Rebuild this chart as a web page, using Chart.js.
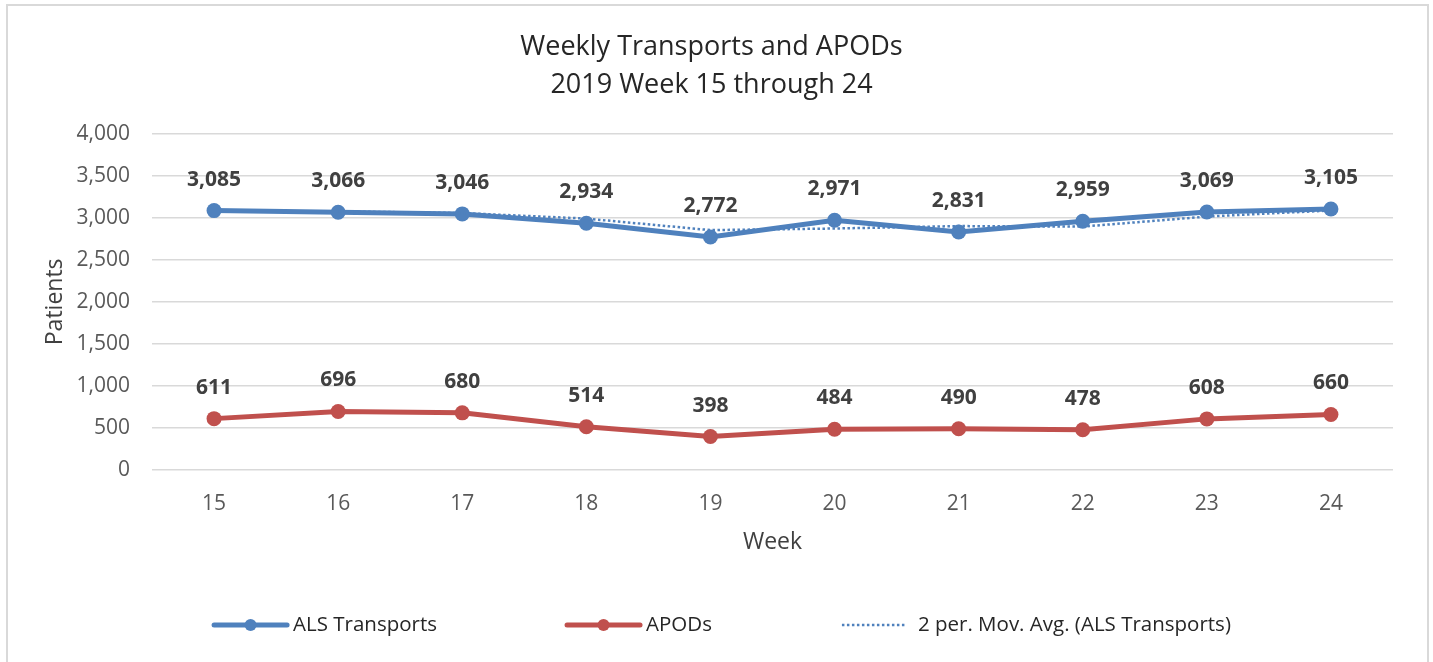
<!DOCTYPE html>
<html>
<head>
<meta charset="utf-8">
<title>Weekly Transports and APODs</title>
<script src="https://cdn.jsdelivr.net/npm/chart.js@4.4.1/dist/chart.umd.min.js"></script>
<style>
  html, body { margin: 0; padding: 0; background: #fff; overflow: hidden; }
  #frame { position: absolute; left: 6px; top: 4px; width: 1423px; height: 700px; border: 2px solid #d9d9d9; box-sizing: border-box; }
  #chart { position: absolute; left: 0; top: 0; }
</style>
</head>
<body>
<div id="frame"></div>
<canvas id="chart" width="1433" height="662"></canvas>
<script>
var weeks = ['15', '16', '17', '18', '19', '20', '21', '22', '23', '24'];
var alsTransports = [3085, 3066, 3046, 2934, 2772, 2971, 2831, 2959, 3069, 3105];
var apods = [611, 696, 680, 514, 398, 484, 490, 478, 608, 660];
// dotted trendline (2 per. moving avg)
var alsMovingAvg = [null, 3076, 3056, 2990, 2853, 2872, 2901, 2895, 3014, 3087];
var yTicks = [0, 500, 1000, 1500, 2000, 2500, 3000, 3500, 4000];

var FONT = '"Open Sans", "Noto Sans", sans-serif';
var BLUE = '#4f81bd';
var RED = '#c0504d';

// bold numbers above each point of the two main series
var valueLabels = {
  id: 'valueLabels',
  afterDatasetsDraw: function (chart) {
    var ctx = chart.ctx;
    ctx.save();
    ctx.font = 'bold 21px ' + FONT;
    ctx.fillStyle = '#404040';
    ctx.textAlign = 'center';
    ctx.textBaseline = 'middle';
    chart.data.datasets.forEach(function (ds, i) {
      if (!ds.showValues) {
        return;
      }
      chart.getDatasetMeta(i).data.forEach(function (pt, j) {
        ctx.fillText(ds.data[j].toLocaleString('en-US'), pt.x, pt.y - 31);
      });
    });
    ctx.restore();
  }
};

// excel style legend: long line samples, wide gaps between entries
var bottomLegend = {
  id: 'bottomLegend',
  afterDraw: function (chart) {
    var ctx = chart.ctx;
    var items = chart.data.datasets;
    var spacing = 130;

    ctx.save();
    ctx.font = '20.5px ' + FONT;
    var sizes = items.map(function (ds) {
      var dotted = !!ds.borderDash;
      return {
        sample: dotted ? 63 : 73,
        gap: dotted ? 13 : 6,
        text: ctx.measureText(ds.label).width
      };
    });
    var total = 0;
    sizes.forEach(function (s, i) {
      total += s.sample + s.gap + s.text + (i > 0 ? spacing : 0);
    });

    var x = (chart.width - total) / 2 + 6;
    var y = chart.height - 37;
    items.forEach(function (ds, i) {
      var s = sizes[i];
      ctx.strokeStyle = ds.borderColor;
      ctx.lineWidth = ds.borderDash ? 2.5 : 5;
      ctx.lineCap = ds.borderDash ? 'butt' : 'round';
      ctx.setLineDash(ds.borderDash || []);
      ctx.beginPath();
      ctx.moveTo(x, y);
      ctx.lineTo(x + s.sample, y);
      ctx.stroke();
      ctx.setLineDash([]);
      if (ds.pointRadius) {
        ctx.fillStyle = ds.borderColor;
        ctx.beginPath();
        ctx.arc(x + s.sample / 2, y, 6, 0, Math.PI * 2);
        ctx.fill();
      }
      ctx.fillStyle = '#262626';
      ctx.textAlign = 'left';
      ctx.textBaseline = 'middle';
      ctx.fillText(ds.label, x + s.sample + s.gap, y);
      x += s.sample + s.gap + s.text + spacing;
    });
    ctx.restore();
  }
};

var ctx = document.getElementById('chart').getContext('2d');

new Chart(ctx, {
  type: 'line',
  data: {
    labels: weeks,
    datasets: [{
      label: 'ALS Transports',
      data: alsTransports,
      borderColor: BLUE,
      backgroundColor: BLUE,
      borderWidth: 5,
      pointRadius: 7.5,
      pointBorderWidth: 0,
      showValues: true,
      order: 1
    }, {
      label: 'APODs',
      data: apods,
      borderColor: RED,
      backgroundColor: RED,
      borderWidth: 5,
      pointRadius: 7.5,
      pointBorderWidth: 0,
      showValues: true,
      order: 1
    }, {
      label: '2 per. Mov. Avg. (ALS Transports)',
      data: alsMovingAvg,
      borderColor: BLUE,
      borderWidth: 2.5,
      borderDash: [2.5, 2.5],
      pointRadius: 0,
      order: 0
    }]
  },
  options: {
    responsive: false,
    animation: false,
    layout: {
      padding: {left: 30, right: 40, top: 0, bottom: 92}
    },
    plugins: {
      legend: {display: false},
      tooltip: {enabled: false},
      title: {
        display: true,
        text: ['Weekly Transports and APODs', '2019 Week 15 through 24'],
        color: '#262626',
        font: {family: FONT, size: 27, weight: 'normal', lineHeight: 1.42},
        padding: {top: 28, bottom: 29}
      }
    },
    scales: {
      x: {
        offset: true,
        grid: {display: false, drawTicks: false},
        border: {display: false},
        ticks: {
          color: '#595959',
          padding: 21,
          font: {family: FONT, size: 21}
        },
        title: {
          display: true,
          text: 'Week',
          color: '#404040',
          font: {family: FONT, size: 23},
          padding: {top: 0, bottom: 14}
        },
        afterFit: function (scale) {
          scale.height = 100;
        }
      },
      y: {
        min: 0,
        max: 4000,
        grid: {color: '#d9d9d9', lineWidth: 1.5, drawTicks: false},
        border: {display: false},
        afterBuildTicks: function (scale) {
          scale.ticks = yTicks.map(function (v) { return {value: v}; });
        },
        ticks: {
          color: '#595959',
          padding: 22,
          font: {family: FONT, size: 21},
          callback: function (v) { return v.toLocaleString('en-US'); }
        },
        title: {
          display: true,
          text: 'Patients',
          color: '#404040',
          font: {family: FONT, size: 23},
          padding: {top: 12, bottom: 0}
        },
        afterFit: function (scale) {
          scale.width = 122;
        }
      }
    }
  },
  plugins: [valueLabels, bottomLegend]
});
</script>
</body>
</html>
